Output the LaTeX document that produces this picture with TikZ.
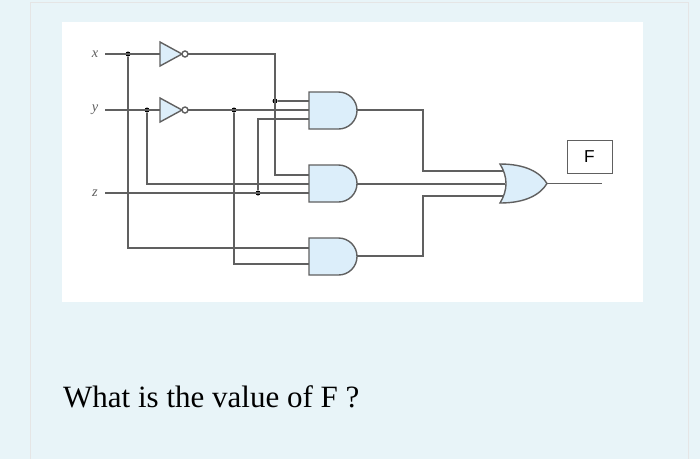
\documentclass[tikz,border=0pt]{standalone}
\usepackage{fontspec}
\setmainfont{Liberation Serif}
\newfontfamily\sansf{Liberation Sans}
\definecolor{pagebg}{HTML}{E8F4F8}
\definecolor{gatefill}{HTML}{DCEEFA}
\definecolor{wire}{HTML}{606060}
\begin{document}
\begin{tikzpicture}[x=1pt,y=-1pt,
  w/.style={draw=wire,line width=1.2pt},
  g/.style={draw=wire,fill=gatefill,line width=1.4pt},
  jn/.style={circle,fill=black,inner sep=0pt,minimum size=5pt},
  lab/.style={font=\itshape\Large,text=wire}]
\useasboundingbox (0,0) rectangle (700,459);
\fill[pagebg] (0,0) rectangle (700,459);
\draw[draw=black!10,line width=1pt] (30,459) -- (30,2) -- (688,2) -- (688,459);
\fill[white] (62,22) rectangle (643,302);
% labels
\node[lab] (lx) at (95,54) {x};
\node[lab] (ly) at (95,110) {y};
\node[lab] (lz) at (95,193) {z};
% junctions
\node[jn] (jx) at (128,54) {};
\node[jn] (jy) at (147,110) {};
\node[jn] (jyn) at (234,110) {};
\node[jn] (jxn) at (275,101) {};
\node[jn] (jz) at (258,193) {};
% wires
\draw[w] (105,54) -- (160,54);
\draw[w] (188,54) -- (275,54) -- (275,175) -- (309,175);
\draw[w] (jxn) -- (309,101);
\draw[w] (105,110) -- (160,110);
\draw[w] (188,110) -- (309,110);
\draw[w] (jy) -- (147,184) -- (309,184);
\draw[w] (105,193) -- (309,193);
\draw[w] (jz) -- (258,119) -- (309,119);
\draw[w] (jx) -- (128,248) -- (309,248);
\draw[w] (jyn) -- (234,264) -- (309,264);
\draw[w] (357,110) -- (423,110) -- (423,171) -- (503,171);
\draw[w] (357,184) -- (505,184);
\draw[w] (357,256) -- (423,256) -- (423,196) -- (503,196);
\draw[w] (547,183.5) -- (602,183.5);
% NOT gates
\foreach \yy in {54,110}{
  \draw[g] (160,\yy-12) -- (182,\yy) -- (160,\yy+12) -- cycle;
  \draw[g,fill=white] (185,\yy) circle (3);
}
% AND gates
\foreach \yt in {92,165,238}{
  \draw[g] (309,\yt) -- (338.5,\yt) arc[start angle=-90,end angle=90,radius=18.5] -- (309,\yt+37) -- cycle;
}
% OR gate
\draw[g] (500,164) .. controls (525,164) and (540,172) .. (547,183.5)
  .. controls (540,195) and (525,203) .. (500,203)
  .. controls (508,190) and (508,177) .. (500,164) -- cycle;
% F box
\node[draw=wire,line width=1pt,minimum width=45pt,minimum height=33pt,font=\sansf\LARGE] (F) at (589.5,157) {F};
\node[anchor=west,font=\fontsize{31}{36}\selectfont,inner sep=0pt] (q) at (63,397) {What is the value of F ?};
\end{tikzpicture}
\end{document}
